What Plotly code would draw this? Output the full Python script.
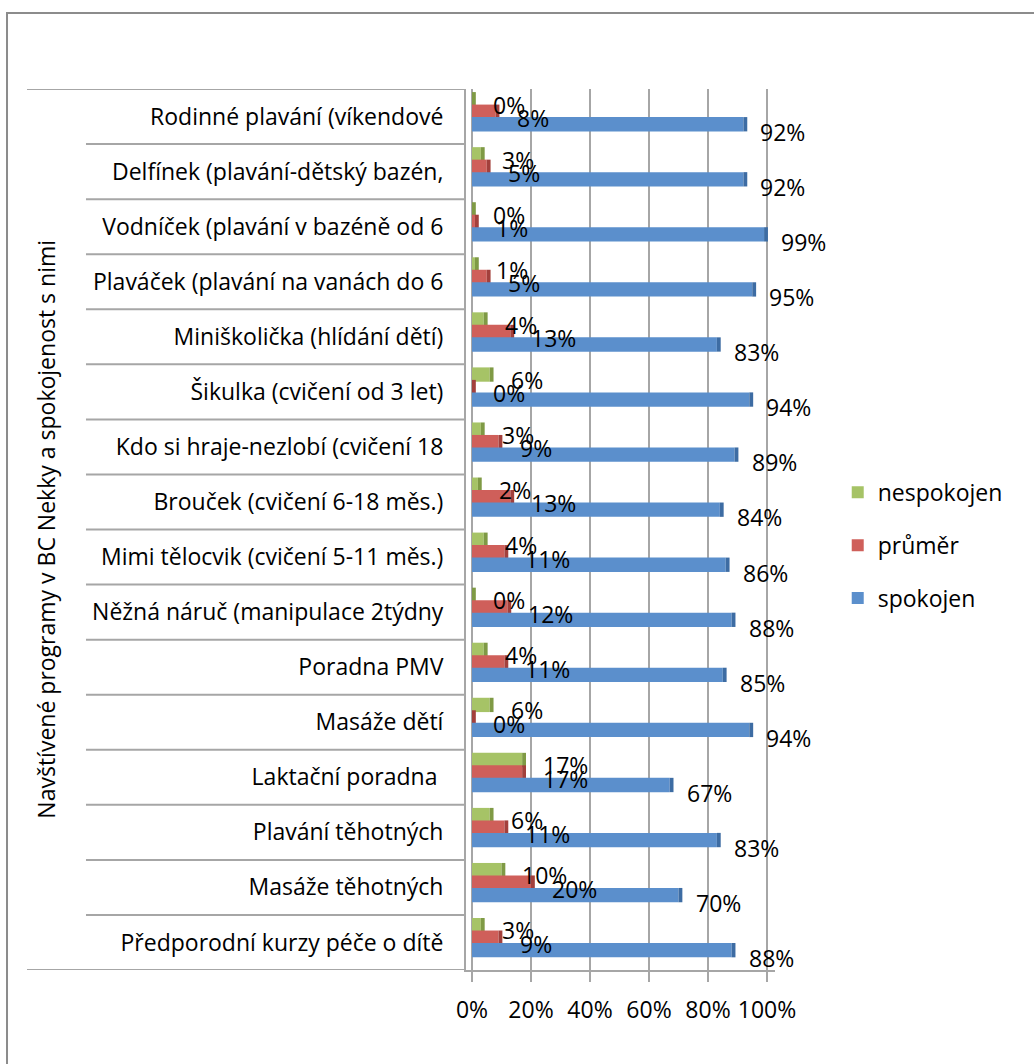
import plotly.graph_objects as go

# Programmes (bottom to top as drawn on the category axis)
programy = [
    "Předporodní kurzy péče o dítě",
    "Masáže těhotných",
    "Plavání těhotných",
    "Laktační poradna ",
    "Masáže dětí",
    "Poradna PMV",
    "Něžná náruč (manipulace 2týdny",
    "Mimi tělocvik (cvičení 5-11 měs.)",
    "Brouček (cvičení 6-18 měs.)",
    "Kdo si hraje-nezlobí (cvičení 18",
    "Šikulka (cvičení od 3 let)",
    "Miniškolička (hlídání dětí)",
    "Plaváček (plavání na vanách do 6",
    "Vodníček (plavání v bazéně od 6",
    "Delfínek (plavání-dětský bazén,",
    "Rodinné plavání (víkendové",
]

spokojen = [88, 70, 83, 67, 94, 85, 88, 86, 84, 89, 94, 83, 95, 99, 92, 92]
prumer = [9, 20, 11, 17, 0, 11, 12, 11, 13, 9, 0, 13, 5, 1, 5, 8]
nespokojen = [3, 10, 6, 17, 6, 4, 0, 4, 2, 3, 6, 4, 1, 0, 3, 0]

FONT = "Open Sans"
FS = 23
GRID = "#a6a6a6"

pos = list(range(len(programy)))

# series: name, values, face colour, end-cap colour, bar offset, label yshift, label xshift
series = [
    ("nespokojen", nespokojen, "#a6c366", "#7f9a45", 0.184, 12, 19),
    ("průměr", prumer, "#cf5f5a", "#a3403c", -0.043, -1.5, 19),
    ("spokojen", spokojen, "#5b8fcc", "#3d6ca3", -0.27, -15.5, 15),
]

BAR_W = 0.26
CAP = 0.013

fig = go.Figure()
annotations = []
for name, vals, col, capcol, off, ysh, xsh in series:
    frac = [v / 100 for v in vals]
    fig.add_trace(go.Bar(
        y=pos, x=frac, orientation="h", name=name, legendgroup=name,
        marker=dict(color=col, line=dict(width=0)),
        width=BAR_W, offset=off, hoverinfo="x+name",
    ))
    # darker end face giving the bars a little depth
    fig.add_trace(go.Bar(
        y=pos, x=[CAP] * len(frac), base=frac, orientation="h",
        legendgroup=name,
        marker=dict(color=capcol, line=dict(width=0)),
        width=BAR_W, offset=off, showlegend=False, hoverinfo="skip",
    ))
    for p, v in zip(pos, vals):
        annotations.append(dict(
            x=v / 100, y=p, xref="x", yref="y", text=f"{v}%",
            showarrow=False, xanchor="left", yanchor="middle",
            xshift=xsh, yshift=ysh,
            font=dict(family=FONT, size=FS, color="#000000"),
        ))

# vertical axis title
annotations.append(dict(
    x=-1.362, y=0.5, xref="paper", yref="paper",
    text="Navštívené programy v BC Nekky a spokojenost s nimi",
    textangle=-90, showarrow=False, xanchor="center", yanchor="middle",
    font=dict(family=FONT, size=FS, color="#000000"),
))

shapes = []
# category separators on the left of the plot
n = len(programy)
for k in range(n + 1):
    edge = k in (0, n)
    shapes.append(dict(
        type="line", xref="paper", yref="y",
        x0=-1.4207 if edge else -1.2298, x1=0,
        y0=k - 0.5, y1=k - 0.5,
        line=dict(color=GRID, width=2), layer="below",
    ))
# outer chart frame
shapes.append(dict(
    type="rect", xref="paper", yref="paper",
    x0=-1.4854, x1=3.0, y0=-0.5, y1=1.0863,
    line=dict(color="#8c8c8c", width=2), fillcolor="rgba(0,0,0,0)",
    layer="below",
))

fig.update_layout(
    width=1034, height=1064,
    margin=dict(l=466, r=259, t=89, b=94),
    paper_bgcolor="white", plot_bgcolor="white",
    barmode="overlay",
    font=dict(family=FONT, size=FS, color="#000000"),
    showlegend=True,
    legend=dict(
        x=1.203, y=0.482, xanchor="left", yanchor="middle",
        traceorder="grouped", tracegroupgap=20,
        font=dict(family=FONT, size=FS, color="#000000"),
        itemwidth=30, bgcolor="rgba(0,0,0,0)",
    ),
    annotations=annotations,
    shapes=shapes,
    xaxis=dict(
        range=[-0.0203, 1.027],
        tickvals=[0, 0.2, 0.4, 0.6, 0.8, 1.0],
        ticktext=["0%", "20%", "40%", "60%", "80%", "100%"],
        showgrid=True, gridcolor=GRID, gridwidth=2,
        zeroline=False,
        showline=True, linecolor=GRID, linewidth=2,
        ticks="outside", ticklen=10, tickwidth=2, tickcolor=GRID,
        ticklabelstandoff=8,
        tickfont=dict(family=FONT, size=FS, color="#000000"),
        fixedrange=True,
    ),
    yaxis=dict(
        range=[-0.5, n - 0.5],
        tickvals=pos, ticktext=programy,
        showgrid=False, zeroline=False,
        showline=True, linecolor=GRID, linewidth=2,
        ticks="", ticklabelstandoff=16,
        tickfont=dict(family=FONT, size=FS, color="#000000"),
        fixedrange=True,
    ),
)

fig.write_html("out.html")
